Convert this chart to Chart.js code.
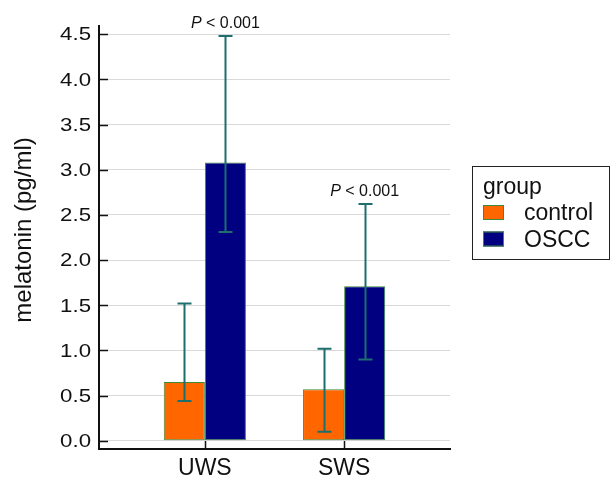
<!DOCTYPE html>
<html>
<head>
<meta charset="utf-8">
<title>melatonin</title>
<script src="https://cdn.jsdelivr.net/npm/chart.js@4.4.1/dist/chart.umd.min.js"></script>
<style>
  html, body { margin: 0; padding: 0; background: #fff; }
  #wrap { position: relative; width: 611px; height: 479px; }
</style>
</head>
<body>
<div id="wrap"><canvas id="melatoninChart"></canvas></div>
<script>
// data
const categories = ['UWS', 'SWS'];
const groupTitle = 'group';
const groupNames = ['control', 'OSCC'];
const controlMean = [0.65, 0.57];
const controlLow = [0.44, 0.10];
const controlHigh = [1.52, 1.02];
const osccMean = [3.08, 1.71];
const osccLow = [2.31, 0.90];
const osccHigh = [4.48, 2.62];
const pLabels = ['P < 0.001', 'P < 0.001'];
const yTicks = [0, 0.5, 1.0, 1.5, 2.0, 2.5, 3.0, 3.5, 4.0, 4.5];
const yTitle = 'melatonin (pg/ml)';

const FONT = 'Arial, "Liberation Sans", sans-serif';
const barColors = ['#ff6600', '#000080'];
const barBorder = '#3d8a3d';
const errorColor = '#1d6e6e';
const axisColor = '#111111';

window.addEventListener('DOMContentLoaded', () => {
  initChart();
});

// error bars with caps
const errorBarPlugin = {
  id: 'errorBars',
  afterDatasetsDraw(chart) {
    const ctx = chart.ctx;
    const yScale = chart.scales.y;
    const ranges = [[controlLow, controlHigh], [osccLow, osccHigh]];
    ctx.save();
    ctx.strokeStyle = errorColor;
    ctx.lineWidth = 2;
    chart.data.datasets.forEach((ds, i) => {
      const meta = chart.getDatasetMeta(i);
      meta.data.forEach((bar, j) => {
        const x = Math.round(bar.x) + 0.5;
        const top = yScale.getPixelForValue(ranges[i][1][j]);
        const bottom = yScale.getPixelForValue(ranges[i][0][j]);
        ctx.beginPath();
        ctx.moveTo(x, top);
        ctx.lineTo(x, bottom);
        ctx.moveTo(x - 7, top);
        ctx.lineTo(x + 7, top);
        ctx.moveTo(x - 7, bottom);
        ctx.lineTo(x + 7, bottom);
        ctx.stroke();
      });
    });
    ctx.restore();
  }
};

// y labels, inward tick marks, p-values and the boxed legend
const decorPlugin = {
  id: 'decor',
  afterDraw(chart) {
    const ctx = chart.ctx;
    const area = chart.chartArea;
    const xScale = chart.scales.x;
    const yScale = chart.scales.y;
    ctx.save();

    // tick marks inside the axes
    ctx.strokeStyle = axisColor;
    ctx.lineWidth = 1.5;
    ctx.beginPath();
    yTicks.forEach(v => {
      const y = Math.round(yScale.getPixelForValue(v)) + 0.5;
      ctx.moveTo(area.left, y);
      ctx.lineTo(area.left + 9, y);
    });
    categories.forEach((c, i) => {
      const x = Math.round(xScale.getPixelForValue(i)) + 0.5;
      ctx.moveTo(x, area.bottom);
      ctx.lineTo(x, area.bottom - 8);
    });
    ctx.stroke();

    // y tick labels (the figure's digits are drawn a little wide)
    ctx.fillStyle = '#111';
    ctx.font = '19px ' + FONT;
    ctx.textAlign = 'right';
    ctx.textBaseline = 'middle';
    yTicks.forEach(v => {
      const y = yScale.getPixelForValue(v) + 1;
      ctx.save();
      ctx.translate(area.left - 8, y);
      ctx.scale(1.17, 1);
      ctx.fillText(v.toFixed(1), 0, 0);
      ctx.restore();
    });

    // y axis title
    ctx.save();
    ctx.font = '24px ' + FONT;
    ctx.textAlign = 'center';
    ctx.textBaseline = 'middle';
    ctx.translate(24, area.top + 204);
    ctx.rotate(-Math.PI / 2);
    ctx.fillText(yTitle, 0, 0);
    ctx.restore();

    // p-values above the OSCC error bars
    const meta = chart.getDatasetMeta(1);
    ctx.textBaseline = 'alphabetic';
    ctx.textAlign = 'left';
    meta.data.forEach((bar, j) => {
      const label = pLabels[j];
      const first = label.slice(0, 1);
      const rest = label.slice(1);
      ctx.font = 'italic 16px ' + FONT;
      const w1 = ctx.measureText(first).width;
      ctx.font = '16px ' + FONT;
      const w2 = ctx.measureText(rest).width;
      const y = yScale.getPixelForValue(osccHigh[j]) - 8;
      const x0 = bar.x - (w1 + w2) / 2;
      ctx.font = 'italic 16px ' + FONT;
      ctx.fillText(first, x0, y);
      ctx.font = '16px ' + FONT;
      ctx.fillText(rest, x0 + w1, y);
    });

    // legend
    const lx = area.right + 22;
    const ly = 166;
    ctx.strokeStyle = '#222';
    ctx.lineWidth = 1;
    ctx.strokeRect(lx + 0.5, ly + 0.5, 137, 93);
    ctx.fillStyle = '#111';
    ctx.font = '23px ' + FONT;
    ctx.textAlign = 'left';
    ctx.textBaseline = 'alphabetic';
    ctx.fillText(groupTitle, lx + 11, ly + 28);
    groupNames.forEach((name, i) => {
      const rowY = ly + 39 + i * 26.5;
      ctx.fillStyle = barColors[i];
      ctx.fillRect(lx + 11, rowY, 21, 15);
      ctx.strokeStyle = barBorder;
      ctx.strokeRect(lx + 11.5, rowY + 0.5, 20, 14);
      ctx.fillStyle = '#111';
      ctx.textBaseline = 'alphabetic';
      ctx.fillText(name, lx + 52, rowY + 15);
    });

    ctx.restore();
  }
};

// build the chart
function initChart() {
  const ctx = document.getElementById('melatoninChart').getContext('2d');
  const means = [controlMean, osccMean];

  window.melatoninChart = new Chart(ctx, {
    type: 'bar',
    data: {
      datasets: groupNames.map((name, i) => ({
        label: name,
        data: categories.map((c, j) => ({ x: j, y: means[i][j] })),
        backgroundColor: barColors[i],
        borderColor: barBorder,
        borderWidth: 1,
        borderSkipped: false,
        categoryPercentage: 0.59,
        barPercentage: 1.0
      }))
    },
    options: {
      responsive: true,
      maintainAspectRatio: false,
      animation: false,
      layout: { padding: { top: 26, right: 161, bottom: 0, left: 0 } },
      plugins: {
        legend: { display: false },
        tooltip: { enabled: false }
      },
      scales: {
        x: {
          type: 'linear',
          min: -0.76,
          max: 1.76,
          offset: false,
          grid: { display: false, offset: false, drawTicks: false },
          border: { display: true, color: axisColor, width: 2 },
          afterBuildTicks: scale => {
            scale.ticks = categories.map((c, i) => ({ value: i }));
          },
          afterFit: scale => { scale.height = 30; },
          ticks: {
            padding: 6,
            color: '#111',
            font: { family: FONT, size: 23 },
            callback: value => categories[value]
          }
        },
        y: {
          min: -0.09,
          max: 4.59,
          grid: { color: '#d9d9d9', lineWidth: 1, drawTicks: false },
          border: { display: true, color: axisColor, width: 2 },
          afterBuildTicks: scale => {
            scale.ticks = yTicks.map(v => ({ value: v }));
          },
          afterFit: scale => { scale.width = 99; },
          ticks: { display: false }
        }
      }
    },
    plugins: [errorBarPlugin, decorPlugin]
  });
}
</script>
</body>
</html>
